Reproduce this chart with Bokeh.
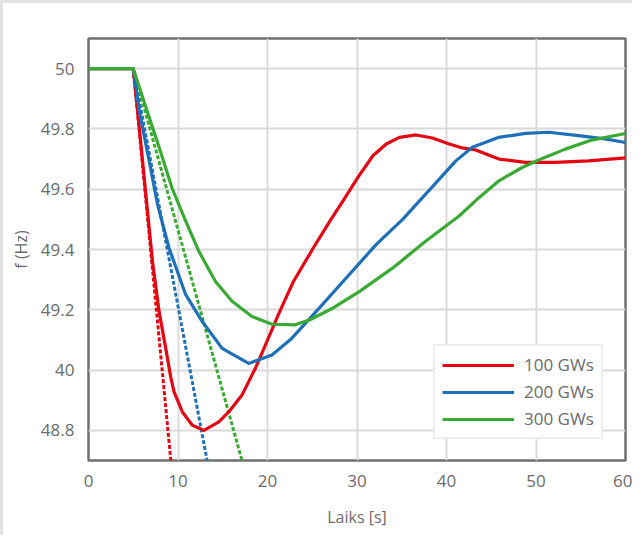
from bokeh.plotting import figure
from bokeh.models import Range1d, FixedTicker, Legend, LegendItem
from bokeh.embed import file_html
from bokeh.resources import INLINE

# ---- data ----
t_100 = [0, 5, 5.67, 6.41, 7.15, 7.89, 8.63, 9.2, 9.56, 10.49, 11.6, 12.9, 14.56, 15.67,
         17.15, 18.63, 19.93, 21.2, 22.9, 25.1, 26.97, 28.44, 30.1, 31.78, 33.27, 34.74,
         36.6, 38.44, 40.3, 41.78, 43.26, 45.86, 48.82, 52.16, 55.86, 60]
f_100 = [50, 50, 49.806, 49.583, 49.361, 49.194, 49.072, 48.975, 48.928, 48.861, 48.817,
         48.80, 48.828, 48.861, 48.917, 49.005, 49.094, 49.183, 49.294, 49.404, 49.494,
         49.561, 49.639, 49.711, 49.75, 49.772, 49.78, 49.77, 49.75, 49.737, 49.73, 49.70,
         49.689, 49.689, 49.694, 49.704]

t_200 = [0, 5, 5.67, 6.78, 7.71, 9.0, 10.86, 12.71, 14.93, 17.9, 20.5, 22.7, 25.1, 28.44,
         32.16, 35.1, 39.4, 41.04, 42.89, 45.86, 48.82, 51.41, 54.74, 57.71, 60]
f_200 = [50, 50, 49.861, 49.694, 49.55, 49.405, 49.25, 49.161, 49.072, 49.022, 49.05,
         49.105, 49.183, 49.294, 49.417, 49.50, 49.64, 49.694, 49.739, 49.772, 49.785,
         49.789, 49.778, 49.767, 49.755]

t_300 = [0, 5, 6.41, 7.89, 9.38, 10.86, 12.33, 14.19, 16.04, 18.27, 20.49, 23.08, 24.74,
         27.33, 30.3, 34.0, 37.7, 41.41, 43.63, 45.86, 48.45, 50.3, 53.27, 56.23, 60]
f_300 = [50, 50, 49.872, 49.739, 49.60, 49.494, 49.394, 49.294, 49.228, 49.178, 49.152,
         49.15, 49.167, 49.206, 49.261, 49.339, 49.428, 49.511, 49.572, 49.628, 49.672,
         49.697, 49.733, 49.763, 49.785]

# initial-slope tangent lines (dotted)
tan_t_100 = [5, 9.2]
tan_f_100 = [50, 48.7]
tan_t_200 = [5, 13.25]
tan_f_200 = [50, 48.7]
tan_t_300 = [5, 17.15]
tan_f_300 = [50, 48.7]

x_ticks = [0, 10, 20, 30, 40, 50, 60]
y_ticks = [48.8, 49.0, 49.2, 49.4, 49.6, 49.8, 50.0]
y_tick_labels = ["48.8", "40", "49.2", "49.4", "49.6", "49.8", "50"]

series_names = ["100 GWs", "200 GWs", "300 GWs"]
colors = ["#e30613", "#1e70b8", "#3aaa35"]

FONT = "Open Sans"
TXT = "#6b6b6b"

p = figure(width=632, height=535, output_backend="svg", toolbar_location=None,
           x_range=Range1d(0, 60), y_range=Range1d(48.7, 50.1),
           min_border_left=85, min_border_right=10, min_border_top=35,
           min_border_bottom=78)
p.styles = {"border-top": "3px solid #e2e2e2", "border-left": "3px solid #e2e2e2"}
p.background_fill_color = "white"
p.border_fill_color = "white"
p.outline_line_color = "#707070"
p.outline_line_width = 2.5

p.xaxis.ticker = FixedTicker(ticks=x_ticks)
p.yaxis.ticker = FixedTicker(ticks=y_ticks)
p.yaxis.major_label_overrides = {v: s for v, s in zip(y_ticks, y_tick_labels)}
for ax in (p.xaxis, p.yaxis):
    ax.axis_line_color = None
    ax.major_tick_line_color = None
    ax.minor_tick_line_color = None
    ax.major_label_text_font = FONT
    ax.major_label_text_font_size = "17px"
    ax.major_label_text_color = TXT
    ax.axis_label_text_font = FONT
    ax.axis_label_text_font_size = "16px"
    ax.axis_label_text_font_style = "normal"
    ax.axis_label_text_color = TXT
p.xaxis.axis_label = "Laiks [s]"
p.yaxis.axis_label = "f (Hz)"
p.xaxis.major_label_standoff = 8
p.yaxis.major_label_standoff = 8
p.xaxis.axis_label_standoff = 16
p.yaxis.axis_label_standoff = 6

p.xgrid.ticker = FixedTicker(ticks=x_ticks)
p.ygrid.ticker = FixedTicker(ticks=y_ticks)
p.grid.grid_line_color = "#dadada"
p.grid.grid_line_width = 2

tans = [(tan_t_100, tan_f_100), (tan_t_200, tan_f_200), (tan_t_300, tan_f_300)]
for (tx, ty), c in zip(tans, colors):
    p.line(tx, ty, line_color=c, line_width=3, line_dash="4 2")

solids = [(t_100, f_100), (t_200, f_200), (t_300, f_300)]
items = []
for (tx, fy), c, name in zip(solids, colors, series_names):
    r = p.line(tx, fy, line_color=c, line_width=3.2, line_join="round")
    items.append(LegendItem(label=name, renderers=[r]))

legend = Legend(items=items, location=(345, 21))
legend.glyph_width = 72
legend.glyph_height = 20
legend.label_standoff = 10
legend.label_height = 20
legend.spacing = 4
legend.padding = 7
legend.margin = 0
legend.label_text_font = FONT
legend.label_text_font_size = "17px"
legend.label_text_color = TXT
legend.border_line_color = "#dcdcdc"
legend.border_line_width = 2
legend.background_fill_color = "white"
legend.background_fill_alpha = 1
p.add_layout(legend, "center")

open("out.html", "w").write(file_html(p, INLINE))
